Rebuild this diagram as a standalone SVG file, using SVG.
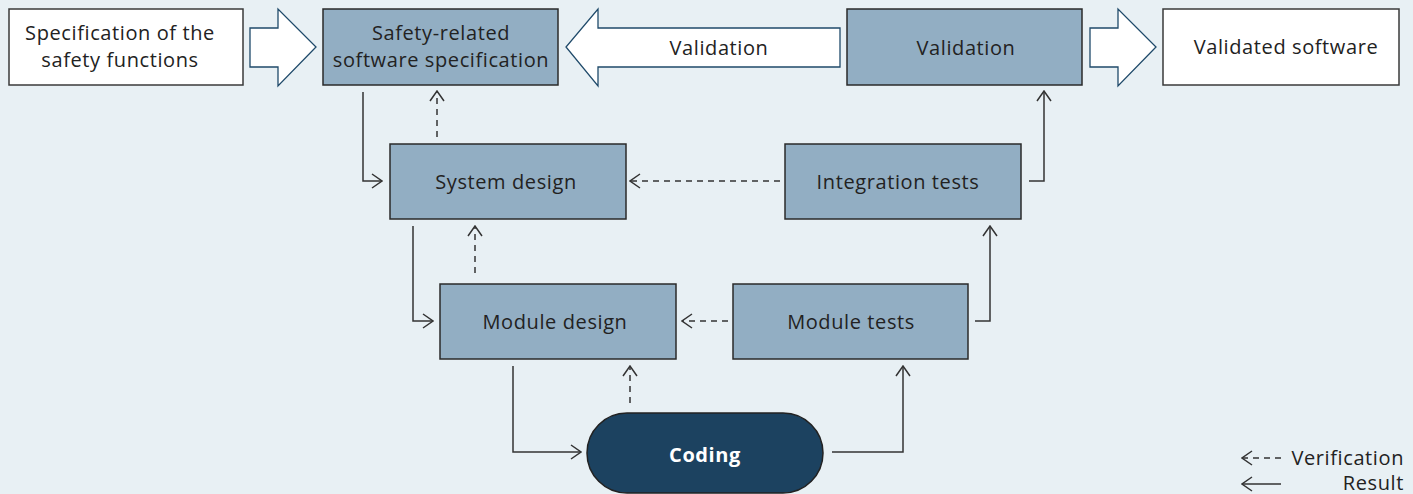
<svg xmlns="http://www.w3.org/2000/svg" width="1413" height="494" viewBox="0 0 1413 494">
<style>
text{font-family:"Open Sans","Liberation Sans",sans-serif;font-size:20px;letter-spacing:0.6px;fill:#222;text-anchor:middle;dominant-baseline:central}
.w{fill:#fff;stroke:#3a3a3a;stroke-width:1.5}
.b{fill:#92aec3;stroke:#2a2a2a;stroke-width:1.5}
.blk{fill:#fff;stroke:#1f4a6a;stroke-width:1.3}
.c{fill:none;stroke:#333;stroke-width:1.5}
.d{fill:none;stroke:#333;stroke-width:1.5;stroke-dasharray:6 5}
</style>
<defs>
<marker id="ah" viewBox="0 0 12 16" refX="11" refY="8" markerWidth="12" markerHeight="16" markerUnits="userSpaceOnUse" orient="auto">
<path d="M1,1 L11,8 L1,15" fill="none" stroke="#333" stroke-width="1.5"/>
</marker>
</defs>
<rect width="1413" height="494" fill="#e8f0f4"/>
<g id="spec-safety"><rect class="w" x="9" y="9" width="234" height="76"/><text x="120" y="32">Specification of the</text><text x="120" y="59">safety functions</text></g>
<g id="arrow1"><path class="blk" d="M250,28 H278 V9 L316,47 L278,86 V67 H250 Z"/></g>
<g id="sw-spec"><rect class="b" x="323" y="9" width="235" height="76"/><text x="441" y="32">Safety-related</text><text x="441" y="59">software specification</text></g>
<g id="arrow-validation"><path class="blk" d="M840,28 H598 V9 L566,47 L598,86 V67 H840 Z"/><text x="719" y="47">Validation</text></g>
<g id="validation"><rect class="b" x="847" y="9" width="235" height="76"/><text x="966" y="47">Validation</text></g>
<g id="arrow2"><path class="blk" d="M1090,28 H1118 V9 L1156,47 L1118,86 V67 H1090 Z"/></g>
<g id="validated"><rect class="w" x="1163" y="9" width="236" height="76"/><text x="1286" y="46">Validated software</text></g>
<g id="system-design"><rect class="b" x="390" y="144" width="236" height="75"/><text x="506" y="181">System design</text></g>
<g id="integration-tests"><rect class="b" x="785" y="144" width="236" height="75"/><text x="898" y="181">Integration tests</text></g>
<g id="module-design"><rect class="b" x="440" y="284" width="236" height="75"/><text x="555" y="321">Module design</text></g>
<g id="module-tests"><rect class="b" x="733" y="284" width="235" height="75"/><text x="851" y="321">Module tests</text></g>
<g id="coding"><rect x="587" y="413" width="236" height="80" rx="40" fill="#1c4260" stroke="#222" stroke-width="1.5"/><text x="705" y="454" style="fill:#fff;font-weight:bold">Coding</text></g>
<g id="connectors">
<path class="c" d="M363,92 V181 H382" marker-end="url(#ah)"/>
<path class="d" d="M437,137 V91" marker-end="url(#ah)"/>
<path class="d" d="M780,181 H630" marker-end="url(#ah)"/>
<path class="c" d="M413,226 V321 H433" marker-end="url(#ah)"/>
<path class="d" d="M475,273 V226" marker-end="url(#ah)"/>
<path class="d" d="M728,321 H682" marker-end="url(#ah)"/>
<path class="c" d="M513,366 V452 H581" marker-end="url(#ah)"/>
<path class="d" d="M630,403 V366" marker-end="url(#ah)"/>
<path class="c" d="M832,452 H903 V366" marker-end="url(#ah)"/>
<path class="c" d="M975,321 H990 V226" marker-end="url(#ah)"/>
<path class="c" d="M1029,181 H1044 V91" marker-end="url(#ah)"/>
</g>
<g id="legend">
<path class="d" d="M1281,458 H1242" stroke-dasharray="5 5" marker-end="url(#ah)"/>
<path class="c" d="M1281,484 H1242" marker-end="url(#ah)"/>
<text x="1404" y="457" style="text-anchor:end">Verification</text>
<text x="1404" y="482" style="text-anchor:end">Result</text>
</g>
</svg>
